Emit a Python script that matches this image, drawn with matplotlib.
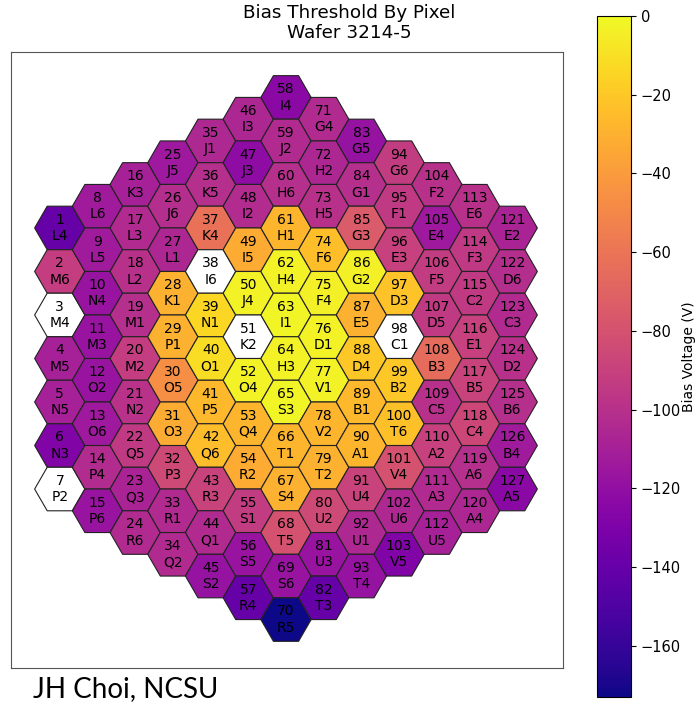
import numpy as np
import matplotlib
matplotlib.use('Agg')
import matplotlib.pyplot as plt
from matplotlib.patches import RegularPolygon
from matplotlib.colors import Normalize
import matplotlib.cm as cm

# cells per column, left to right (cells numbered top to bottom in each column)
col_counts = [7, 8, 9, 10, 11, 12, 13, 12, 11, 10, 9, 8, 7]

pad_names = [
    'L4', 'M6', 'M4', 'M5', 'N5', 'N3', 'P2',
    'L6', 'L5', 'N4', 'M3', 'O2', 'O6', 'P4', 'P6',
    'K3', 'L3', 'L2', 'M1', 'M2', 'N2', 'Q5', 'Q3', 'R6',
    'J5', 'J6', 'L1', 'K1', 'P1', 'O5', 'O3', 'P3', 'R1', 'Q2',
    'J1', 'K5', 'K4', 'I6', 'N1', 'O1', 'P5', 'Q6', 'R3', 'Q1', 'S2',
    'I3', 'J3', 'I2', 'I5', 'J4', 'K2', 'O4', 'Q4', 'R2', 'S1', 'S5', 'R4',
    'I4', 'J2', 'H6', 'H1', 'H4', 'I1', 'H3', 'S3', 'T1', 'S4', 'T5', 'S6', 'R5',
    'G4', 'H2', 'H5', 'F6', 'F4', 'D1', 'V1', 'V2', 'T2', 'U2', 'U3', 'T3',
    'G5', 'G1', 'G3', 'G2', 'E5', 'D4', 'B1', 'A1', 'U4', 'U1', 'T4',
    'G6', 'F1', 'E3', 'D3', 'C1', 'B2', 'T6', 'V4', 'U6', 'V5',
    'F2', 'E4', 'F5', 'D5', 'B3', 'C5', 'A2', 'A3', 'U5',
    'E6', 'F3', 'C2', 'E1', 'B5', 'C4', 'A6', 'A4',
    'E2', 'D6', 'C3', 'D2', 'B6', 'B4', 'A5',
]

# bias threshold (V), NaN = no value
nan = np.nan
bias = [
    -140, -92, nan, -110, -110, -128, nan,
    -113, -113, -117, -117, -117, -114, -103, -117,
    -110, -104, -100, -101, -92, -99, -94, -108, -104,
    -114, -102, -106, -30, -30, -46, -32, -85, -104, -104,
    -105, -101, -62, nan, -14, -12, -27, -25, -89, -104, -118,
    -106, -122, -103, -33, -3, nan, -3, -28, -33, -93, -117, -140,
    -124, -104, -101, -28, -3, -2, -3, -2, -28, -30, -80, -117, -173,
    -104, -106, -100, -24, -4, -3, -3, -28, -30, -85, -117, -140,
    -118, -101, -75, -4, -30, -20, -27, -28, -89, -105, -118,
    -93, -94, -90, -22, nan, -20, -23, -80, -105, -128,
    -100, -114, -93, -94, -65, -100, -90, -104, -110,
    -100, -95, -94, -90, -89, -86, -101, -106,
    -108, -102, -104, -100, -101, -113, -124,
]

vmin, vmax = -173, 0
cb_ticks = [0, -20, -40, -60, -80, -100, -120, -140, -160]

fig = plt.figure(figsize=(6.99, 7.02), dpi=100)
ax = fig.add_axes([11 / 699, 34 / 702, 552 / 699, 616 / 702])
cax = fig.add_axes([597 / 699, 5 / 702, 34 / 699, 681 / 702])

cmap = plt.get_cmap('plasma')
norm = Normalize(vmin=vmin, vmax=vmax)

i = 0
for c, n in enumerate(col_counts):
    x = 1.5 * c
    for k in range(n):
        y = np.sqrt(3) * ((n - 1) / 2 - k)
        v = bias[i]
        face = 'white' if np.isnan(v) else cmap(norm(v))
        ax.add_patch(RegularPolygon((x, y), numVertices=6, radius=1.0,
                                    orientation=np.pi / 6, facecolor=face,
                                    edgecolor='#222222', linewidth=0.8))
        ax.text(x, y, f'{i + 1}\n{pad_names[i]}', ha='center', va='center',
                fontsize=10, color='black', linespacing=1.2)
        i += 1

ax.set_xlim(-1.94, 20.02)
ax.set_ylim(-12.32, 12.2)
ax.set_xticks([])
ax.set_yticks([])
for s in ax.spines.values():
    s.set_color('#555555')

fig.suptitle('Bias Threshold By Pixel\nWafer 3214-5', x=0.5, y=0.995, fontsize=13.2)

sm = cm.ScalarMappable(norm=norm, cmap=cmap)
cb = fig.colorbar(sm, cax=cax, ticks=cb_ticks)
cb.ax.tick_params(labelsize=10.5)
cb.set_label('Bias Voltage (V)', fontsize=10, labelpad=1)
cb.outline.set_linewidth(0.8)

fig.text(33 / 699, 1 - 697 / 702, 'JH Choi, NCSU', family='Lato', fontsize=20,
         ha='left', va='baseline')

fig.savefig('out.png', dpi=100)
